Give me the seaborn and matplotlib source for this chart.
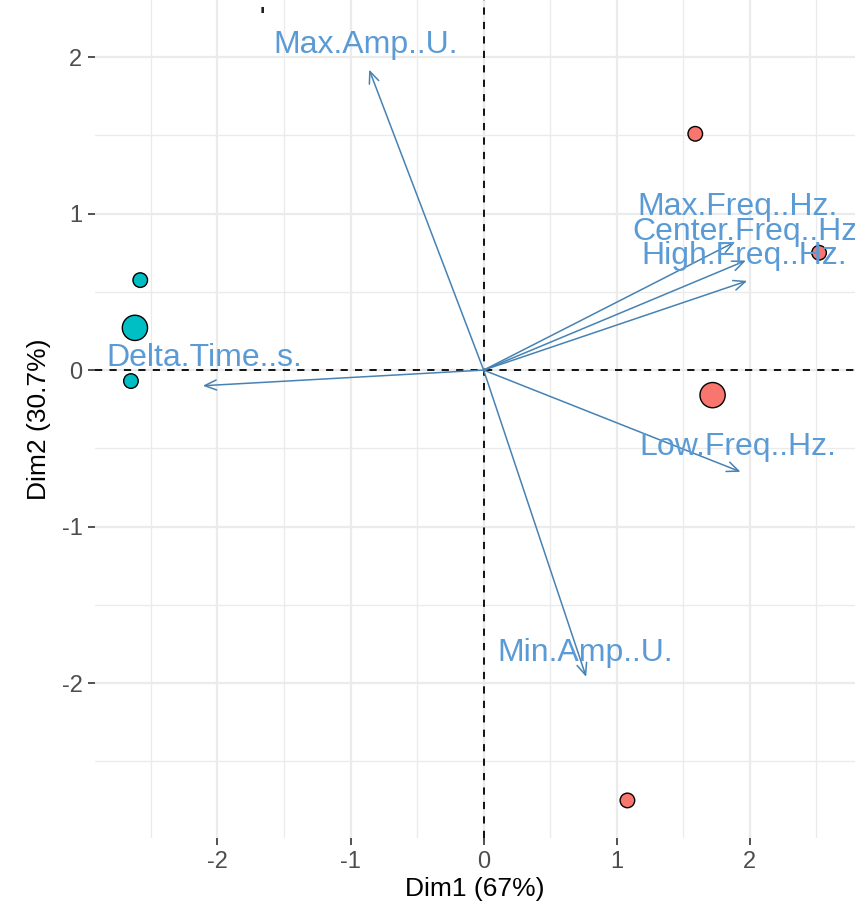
import matplotlib
matplotlib.use("Agg")
import matplotlib.pyplot as plt
import pandas as pd
import seaborn as sns
from matplotlib.ticker import MultipleLocator

# individuals (scores on the first two dimensions)
obs_dim1 = [-2.58, -2.62, -2.65, 1.59, 2.52, 1.72, 1.08]
obs_dim2 = [0.575, 0.27, -0.07, 1.51, 0.75, -0.16, -2.75]
obs_group = ["B", "B", "B", "A", "A", "A", "A"]
obs_weight = ["small", "big", "small", "small", "small", "big", "small"]

# variables (arrow tips and label positions)
var_names = ["Max.Amp..U.", "Max.Freq..Hz.", "Center.Freq..Hz.", "High.Freq..Hz.",
             "Delta.Time..s.", "Low.Freq..Hz.", "Min.Amp..U."]
var_dim1 = [-0.86, 1.89, 1.97, 1.98, -2.11, 1.93, 0.77]
var_dim2 = [1.92, 0.82, 0.70, 0.57, -0.10, -0.65, -1.96]
label_dim1 = [-0.89, 1.91, 2.00, 1.96, -2.10, 1.91, 0.76]
label_dim2 = [2.08, 1.04, 0.88, 0.73, 0.08, -0.49, -1.81]

sns.set_theme(style="white")
plt.rcParams["font.family"] = ["Liberation Sans", "DejaVu Sans"]
plt.rcParams["axes.unicode_minus"] = False

scores = pd.DataFrame({"Dim1": obs_dim1, "Dim2": obs_dim2,
                       "group": obs_group, "weight": obs_weight})

fig = plt.figure(figsize=(8.6, 9.14), dpi=100)
ax = fig.add_axes([95 / 860, 76 / 914, 760 / 860, 838 / 914])

ax.set_xlim(-2.92, 2.79)
ax.set_ylim(-2.99, 2.365)
ax.xaxis.set_major_locator(MultipleLocator(1))
ax.yaxis.set_major_locator(MultipleLocator(1))
ax.xaxis.set_minor_locator(MultipleLocator(0.5))
ax.yaxis.set_minor_locator(MultipleLocator(0.5))
ax.grid(which="major", color="#EBEBEB", linewidth=1.6)
ax.grid(which="minor", color="#EBEBEB", linewidth=1.0)
ax.set_axisbelow(True)
for side in ax.spines.values():
    side.set_visible(False)

ax.axhline(0, color="black", linestyle=(0, (4, 4)), linewidth=1.3, zorder=1)
ax.axvline(0, color="black", linestyle=(0, (4, 4)), linewidth=1.3, zorder=1)

sns.scatterplot(data=scores, x="Dim1", y="Dim2", hue="group", size="weight",
                palette={"A": "#F8766D", "B": "#00BFC4"},
                sizes={"small": 110, "big": 330},
                edgecolor="black", linewidth=1.0, legend=False, ax=ax, zorder=3)

for name, x, y, lx, ly in zip(var_names, var_dim1, var_dim2, label_dim1, label_dim2):
    ax.annotate("", xy=(x, y), xytext=(0, 0),
                arrowprops=dict(arrowstyle="->,head_length=0.7,head_width=0.3",
                                color="#4682B4", lw=1.1, shrinkA=0, shrinkB=0),
                zorder=4)
    ax.text(lx, ly, name, color="#5B9BD5", fontsize=23, ha="center", va="center",
            clip_on=True, zorder=5)

ax.tick_params(axis="both", which="major", length=5, width=1.2, color="#333333",
               labelsize=17, labelcolor="#4D4D4D", left=True, bottom=True, pad=4)
ax.tick_params(axis="both", which="minor", length=0)
ax.set_xlabel("Dim1 (67%)", fontsize=19, color="black", labelpad=3)
ax.set_ylabel("Dim2 (30.7%)", fontsize=19, color="black", labelpad=8)

fig.text(262 / 860, 1 - 22 / 914, "'", fontsize=16, fontweight="bold",
         color="#222222", ha="center")

fig.savefig("out.png", dpi=100)
plt.close(fig)
